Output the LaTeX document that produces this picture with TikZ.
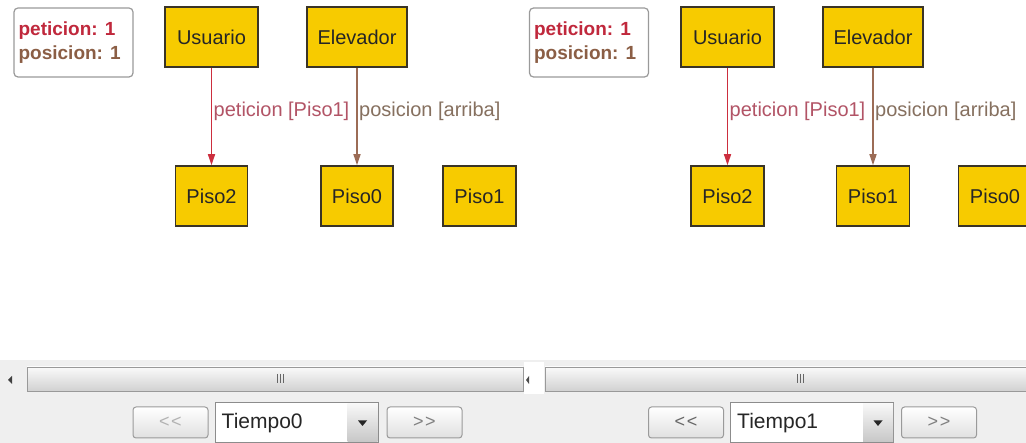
\documentclass[tikz,border=0pt]{standalone}
\usepackage{fontspec}
\setmainfont{Liberation Sans}
\usetikzlibrary{arrows.meta}

\definecolor{boxfill}{HTML}{F7CB00}
\definecolor{boxline}{HTML}{3A3426}
\definecolor{reqred}{HTML}{CC2E3E}
\definecolor{posbrown}{HTML}{9C6C56}
\definecolor{reqlab}{HTML}{B25466}
\definecolor{poslab}{HTML}{86705F}
\definecolor{legred}{HTML}{C0283C}
\definecolor{legbrown}{HTML}{8B5E45}
\definecolor{panelgray}{HTML}{EFEFEF}
\definecolor{edgegray}{HTML}{9A9A9A}

\tikzset{
  state/.style={draw=boxline, line width=1.6pt, fill=boxfill, text=black!85,
    font=\fontsize{20}{24}\selectfont, inner sep=0pt},
  legend/.style={draw=edgegray, line width=1.2pt, rounded corners=4pt, fill=white,
    minimum width=119pt, minimum height=69pt},
  legtext/.style={font=\fontsize{19}{23}\selectfont\bfseries, anchor=west, inner sep=0pt},
  reqarrow/.style={draw=reqred, line width=1.4pt, -{Triangle[width=7pt,length=11pt]}},
  posarrow/.style={draw=posbrown, line width=1.4pt, -{Triangle[width=7pt,length=11pt]}},
  edgelabel/.style={font=\fontsize{20}{24}\selectfont, anchor=west, inner sep=1.5pt},
  btn/.style={draw=edgegray, line width=1pt, rounded corners=3pt,
    top color=white, bottom color=black!12, minimum width=75pt, minimum height=31pt,
    font=\fontsize{18}{22}\selectfont, inner sep=0pt},
  combo/.style={draw=black!45, line width=1pt, fill=white,
    minimum width=163pt, minimum height=40pt, inner sep=0pt},
  combotext/.style={font=\fontsize{21}{25}\selectfont, text=black!85, anchor=west, inner sep=0pt},
  dropbtn/.style={top color=black!3, bottom color=black!22, minimum width=30pt,
    minimum height=38pt, inner sep=0pt},
  thumb/.style={draw=black!40, line width=0.8pt, top color=black!2, bottom color=black!18},
}

\begin{document}
\begin{tikzpicture}[x=1pt,y=-1pt]
\useasboundingbox (0,0) rectangle (1026,443);
\clip (0,0) rectangle (1026,443);
\fill[white] (0,0) rectangle (1026,443);

% ---------------- state at Tiempo0 ----------------
\node[legend] (leg1) at (73.5,42.5) {};
\node[legtext, text=legred] (leg1a) at ([xshift=5pt,yshift=12pt]leg1.west) {peticion: 1};
\node[legtext, text=legbrown] (leg1b) at ([xshift=5pt,yshift=-12.5pt]leg1.west) {posicion: 1};

\node[state, minimum width=93pt, minimum height=60pt] (usr1) at (211.5,37) {Usuario};
\node[state, minimum width=100pt, minimum height=60pt] (elv1) at (357,37) {Elevador};
\node[state, minimum width=72pt, minimum height=60pt] (p2a) at (211.5,196) {Piso2};
\node[state, minimum width=72pt, minimum height=60pt] (p0a) at (357,196) {Piso0};
\node[state, minimum width=73pt, minimum height=60pt] (p1a) at (479.5,196) {Piso1};

\draw[reqarrow] (usr1) -- (p2a)
  node[edgelabel, text=reqlab, pos=0.45] (lab1) {peticion [Piso1]};
\draw[posarrow] (elv1) -- (p0a)
  node[edgelabel, text=poslab, pos=0.45] (lab2) {posicion [arriba]};

% ---------------- state at Tiempo1 ----------------
\node[legend] (leg2) at (589,42.5) {};
\node[legtext, text=legred] (leg2a) at ([xshift=5pt,yshift=12pt]leg2.west) {peticion: 1};
\node[legtext, text=legbrown] (leg2b) at ([xshift=5pt,yshift=-12.5pt]leg2.west) {posicion: 1};

\node[state, minimum width=93pt, minimum height=60pt] (usr2) at (727.5,37) {Usuario};
\node[state, minimum width=100pt, minimum height=60pt] (elv2) at (873,37) {Elevador};
\node[state, minimum width=73pt, minimum height=60pt] (p2b) at (727.5,196) {Piso2};
\node[state, minimum width=73pt, minimum height=60pt] (p1b) at (873,196) {Piso1};
\node[state, minimum width=73pt, minimum height=60pt] (p0b) at (995,196) {Piso0};

\draw[reqarrow] (usr2) -- (p2b)
  node[edgelabel, text=reqlab, pos=0.45] (lab3) {peticion [Piso1]};
\draw[posarrow] (elv2) -- (p1b)
  node[edgelabel, text=poslab, pos=0.45] (lab4) {posicion [arriba]};

% ---------------- scroll bars ----------------
\fill[panelgray] (0,360) rectangle (1026,443);
\draw[thumb] (27,367) rectangle (523,391);
\draw[thumb] (545,367) rectangle (1030,391);
\fill[white] (524,362) rectangle (544,394);
\fill[black!75] (12,376) -- (12,384) -- (8,380) -- cycle;
\fill[black!70] (529,376) -- (529,384) -- (526,380) -- cycle;
\foreach \gx in {277,280,283} {
  \draw[black!60, line width=1pt] (\gx,374) -- (\gx,383);
}
\foreach \gx in {797,800,803} {
  \draw[black!60, line width=1pt] (\gx,374) -- (\gx,383);
}

% ---------------- time navigation ----------------
\node[btn, text=black!30] (prev1) at (170.5,422.5) {<\kern1.5pt<};
\node[combo] (cmb1) at (296.5,423) {};
\node[dropbtn] (drp1) at ([xshift=-16pt]cmb1.east) {};
\fill[black!85] ([xshift=-4.5pt,yshift=2.5pt]drp1.center) -- ([xshift=4.5pt,yshift=2.5pt]drp1.center)
  -- ([yshift=-3pt]drp1.center) -- cycle;
\node[combotext] (tm1) at ([xshift=7pt]cmb1.west) {Tiempo0};
\node[btn, text=black!50] (next1) at (424.5,422.5) {>\kern1.5pt>};

\node[btn, text=black!60] (prev2) at (686,422.5) {<\kern1.5pt<};
\node[combo] (cmb2) at (812,423) {};
\node[dropbtn] (drp2) at ([xshift=-16pt]cmb2.east) {};
\fill[black!85] ([xshift=-4.5pt,yshift=2.5pt]drp2.center) -- ([xshift=4.5pt,yshift=2.5pt]drp2.center)
  -- ([yshift=-3pt]drp2.center) -- cycle;
\node[combotext] (tm2) at ([xshift=7pt]cmb2.west) {Tiempo1};
\node[btn, text=black!50] (next2) at (939,422.5) {>\kern1.5pt>};
\end{tikzpicture}
\end{document}
